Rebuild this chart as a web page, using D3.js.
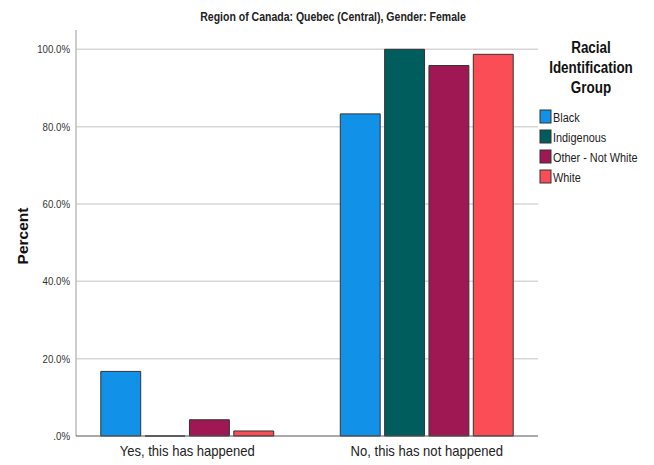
<!DOCTYPE html>
<html><head><meta charset="utf-8">
<script src="https://cdn.jsdelivr.net/npm/d3@7"></script>
<style>body{margin:0;background:#fff}svg{display:block}</style>
</head><body>
<svg id="c" width="654" height="465"></svg>
<script>
const categories = ["Yes, this has happened", "No, this has not happened"];
const groups = ["Black", "Indigenous", "Other - Not White", "White"];
const colors = ["#1192e8", "#005d5d", "#9f1853", "#fa4d56"];
const black = [16.7, 83.3];
const indigenous = [0, 100];
const other = [4.2, 95.8];
const white = [1.3, 98.7];
const yTicks = [0, 20, 40, 60, 80, 100];
const series = [black, indigenous, other, white];

(function () {
const F = "'Liberation Sans',Arial,sans-serif";
const svg = d3.select("#c");
const pLeft = 76, pRight = 538, pTop = 30, pBottom = 436;
const y = d3.scaleLinear().domain([0, 100]).range([pBottom, 49.3]);
const x0 = d3.scaleBand().domain(categories).range([pLeft, pRight]).paddingInner(0.278).paddingOuter(0.1035);
const x1 = d3.scaleBand().domain(groups).range([0, x0.bandwidth()]).paddingInner(0.1).paddingOuter(0);

function squeeze(sel, f) {
  sel.each(function () {
    const L = this.getComputedTextLength();
    d3.select(this).attr("textLength", L * f).attr("lengthAdjust", "spacingAndGlyphs");
  });
}

// gridlines
svg.append("g").selectAll("line").data(yTicks.filter(d => d > 0)).join("line")
  .attr("x1", pLeft).attr("x2", pRight).attr("y1", d => y(d)).attr("y2", d => y(d))
  .attr("stroke", "#d6d6d6").attr("stroke-width", 1.5);

// y axis
const ya = svg.append("g").attr("transform", `translate(${pLeft},0)`)
  .call(d3.axisLeft(y).tickValues(yTicks).tickSize(0).tickPadding(6)
    .tickFormat(d => d === 0 ? ".0%" : d.toFixed(1) + "%"));
ya.select(".domain").remove();
ya.selectAll("text").attr("font-family", F).attr("font-size", 11).attr("fill", "#333");
squeeze(ya.selectAll("text"), 0.88);
svg.append("line").attr("x1", pLeft).attr("x2", pLeft).attr("y1", pTop).attr("y2", pBottom)
  .attr("stroke", "#bdbdbd").attr("stroke-width", 1.5);

// bars
const g = svg.append("g");
categories.forEach((c, ci) => {
  groups.forEach((gname, gi) => {
    const v = series[gi][ci];
    const bx = x0(c) + x1(gname), bw = x1.bandwidth(), by = y(v);
    g.append("path")
      .attr("d", `M${bx},${pBottom}V${by}H${bx + bw}V${pBottom}Z`)
      .attr("fill", colors[gi]).attr("stroke", "#333").attr("stroke-width", 1);
  });
});

// x axis baseline
svg.append("line").attr("x1", pLeft).attr("x2", pRight).attr("y1", pBottom).attr("y2", pBottom)
  .attr("stroke", "#555").attr("stroke-width", 1);
const xa = svg.append("g").attr("transform", `translate(0,${pBottom})`)
  .call(d3.axisBottom(x0).tickSize(0).tickPadding(10));
xa.select(".domain").remove();
xa.selectAll("text").attr("font-family", F).attr("font-size", 14.5).attr("fill", "#222");
squeeze(xa.selectAll("text"), 0.9);

// title
const title = svg.append("text").attr("x", 333).attr("y", 21).attr("text-anchor", "middle")
  .attr("font-family", F).attr("font-size", 12.5).attr("font-weight", "bold").attr("fill", "#222")
  .text("Region of Canada: Quebec (Central), Gender: Female");
squeeze(title, 0.84);

// y label
svg.append("text").attr("transform", "translate(28,236) rotate(-90)").attr("text-anchor", "middle")
  .attr("font-family", F).attr("font-size", 15.5).attr("font-weight", "bold").attr("fill", "#111")
  .text("Percent");

// legend
const ltitle = ["Racial", "Identification", "Group"];
ltitle.forEach((t, i) => {
  const tx = svg.append("text").attr("text-anchor", "middle").attr("font-family", F)
    .attr("font-size", 16).attr("font-weight", "bold").attr("fill", "#111")
    .attr("x", 591).attr("y", 53 + i * 20).text(t);
  squeeze(tx, 0.84);
});
const lg = svg.append("g");
groups.forEach((gname, i) => {
  const yy = 110 + i * 20;
  lg.append("rect").attr("x", 540).attr("y", yy).attr("width", 11).attr("height", 13)
    .attr("fill", colors[i]).attr("stroke", "#333").attr("stroke-width", 1);
  const t = lg.append("text").attr("x", 553).attr("y", yy + 12).attr("font-family", F).attr("font-size", 12.5)
    .attr("fill", "#222").text(gname);
  squeeze(t, 0.87);
});
})();
</script>
</body></html>
